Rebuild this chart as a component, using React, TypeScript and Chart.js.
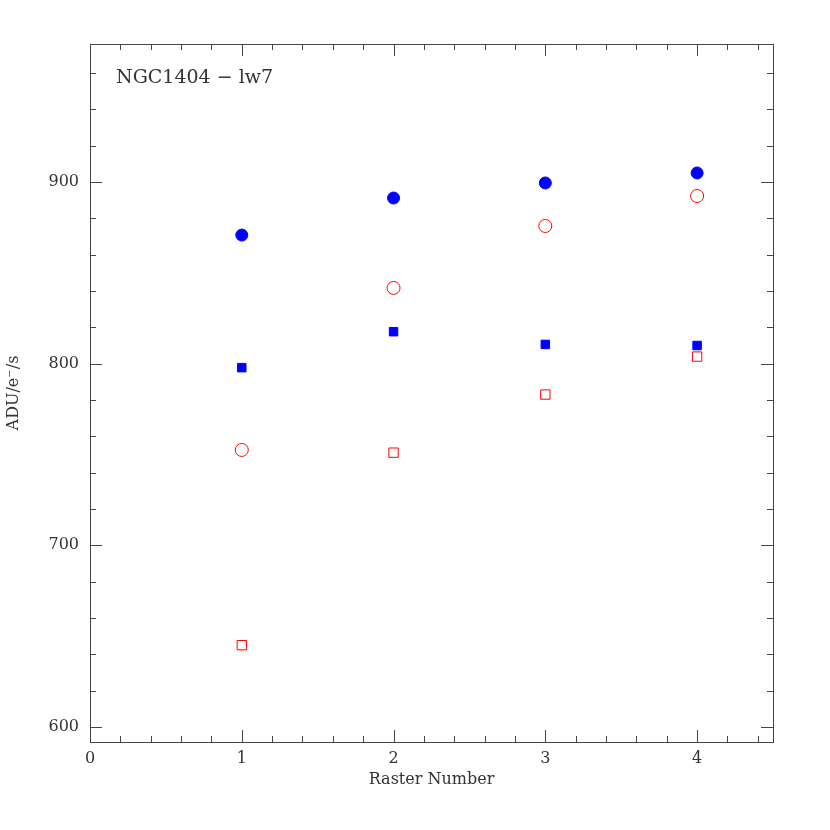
import React, { useEffect, useRef } from "react";
import { Chart, registerables } from "chart.js";

Chart.register(...registerables);

const rasterNumbers = [1, 2, 3, 4];
const filledCircles = [870.8, 891.2, 899.5, 905.0];
const openCircles = [752.5, 841.7, 875.8, 892.3];
const filledSquares = [797.8, 817.6, 810.6, 810.0];
const openSquares = [645.0, 751.0, 783.0, 803.9];

const xMajorTicks = [0, 1, 2, 3, 4];
const yMajorTicks = [600, 700, 800, 900];
const xRange = [0, 4.5];
const yRange = [591.7, 976];
const xMinorStep = 0.2;
const yMinorStep = 20;

const plotTitle = "NGC1404 \u2212 lw7";
const xAxisTitle = "Raster Number";
const yAxisTitle = "ADU/e\u207B/s";

const FONT = "'DejaVu Serif', 'Liberation Serif', serif";

function toPoints(ys: number[]) {
  return rasterNumbers.map((x, i) => ({ x, y: ys[i] }));
}

const framePlugin = {
  id: "framePlugin",
  afterDraw(chart: any) {
    const { ctx, chartArea } = chart;
    const { left, right, top, bottom } = chartArea;
    const xs = chart.scales.x;
    const ys = chart.scales.y;
    ctx.save();
    ctx.strokeStyle = "#444";
    ctx.lineWidth = 1;
    ctx.strokeRect(Math.round(left) + 0.5, Math.round(top) + 0.5, Math.round(right - left), Math.round(bottom - top));
    ctx.beginPath();
    // x ticks
    for (let v = xRange[0]; v <= xRange[1] + 1e-9; v += xMinorStep) {
      const val = Math.round(v * 10) / 10;
      const major = xMajorTicks.includes(val);
      const len = major ? 12 : 6;
      const px = Math.round(xs.getPixelForValue(val)) + 0.5;
      ctx.moveTo(px, bottom);
      ctx.lineTo(px, bottom - len);
      ctx.moveTo(px, top);
      ctx.lineTo(px, top + len);
    }
    for (let v = 600; v <= yRange[1]; v += yMinorStep) {
      const major = yMajorTicks.includes(v);
      const len = major ? 12 : 6;
      const py = Math.round(ys.getPixelForValue(v)) + 0.5;
      ctx.moveTo(left, py);
      ctx.lineTo(left + len, py);
      ctx.moveTo(right, py);
      ctx.lineTo(right - len, py);
    }
    ctx.stroke();
    ctx.fillStyle = "#333";
    ctx.font = `19px ${FONT}`;
    ctx.textBaseline = "alphabetic";
    ctx.textAlign = "left";
    ctx.fillText(plotTitle, left + 26, top + 39);
    ctx.restore();
  },
};

export default function App() {
  const ref = useRef<HTMLCanvasElement | null>(null);
  useEffect(() => {
    if (!ref.current) return;
    const chart = new Chart(ref.current, {
      type: "scatter",
      data: {
        datasets: [
          {
            label: "filled circles",
            data: toPoints(filledCircles),
            pointStyle: "circle",
            pointRadius: 6,
            backgroundColor: "#0000ff",
            borderColor: "#0000ff",
            borderWidth: 1,
          },
          {
            label: "open circles",
            data: toPoints(openCircles),
            pointStyle: "circle",
            pointRadius: 6.5,
            backgroundColor: "rgba(0,0,0,0)",
            borderColor: "#ff0000",
            borderWidth: 1,
          },
          {
            label: "filled squares",
            data: toPoints(filledSquares),
            pointStyle: "rect",
            pointRadius: 6,
            backgroundColor: "#0000ff",
            borderColor: "#0000ff",
            borderWidth: 1,
          },
          {
            label: "open squares",
            data: toPoints(openSquares),
            pointStyle: "rect",
            pointRadius: 6.6,
            backgroundColor: "rgba(0,0,0,0)",
            borderColor: "#ff0000",
            borderWidth: 1,
          },
        ],
      },
      options: {
        animation: false,
        responsive: false,
        maintainAspectRatio: false,
        layout: { padding: { left: 0, top: 44, right: 57, bottom: 0 } },
        plugins: { legend: { display: false }, tooltip: { enabled: false }, title: { display: false } },
        scales: {
          x: {
            type: "linear",
            min: xRange[0],
            max: xRange[1],
            afterFit: (s: any) => { s.height = 88; },
            afterBuildTicks: (s: any) => { s.ticks = xMajorTicks.map((v) => ({ value: v })); },
            grid: { display: false, drawTicks: false },
            border: { display: false },
            ticks: { color: "#333", font: { family: FONT, size: 16 }, padding: 7, maxRotation: 0 },
            title: { display: true, text: xAxisTitle, color: "#333", font: { family: FONT, size: 16 }, padding: { top: 0, bottom: 41 } },
          },
          y: {
            type: "linear",
            min: yRange[0],
            max: yRange[1],
            afterFit: (s: any) => { s.width = 90; },
            afterBuildTicks: (s: any) => { s.ticks = yMajorTicks.map((v) => ({ value: v })); },
            grid: { display: false, drawTicks: false },
            border: { display: false },
            ticks: { color: "#333", font: { family: FONT, size: 16 }, padding: 11 },
            title: { display: true, text: yAxisTitle, color: "#333", font: { family: FONT, size: 16 }, padding: { top: 4, bottom: 0 } },
          },
        },
      },
      plugins: [framePlugin],
    });
    return () => chart.destroy();
  }, []);
  return (
    <div style={{ position: "fixed", left: 0, top: 0, width: 830, height: 830, background: "#fff" }}>
      <canvas ref={ref} width={830} height={830} style={{ width: 830, height: 830 }} />
    </div>
  );
}
